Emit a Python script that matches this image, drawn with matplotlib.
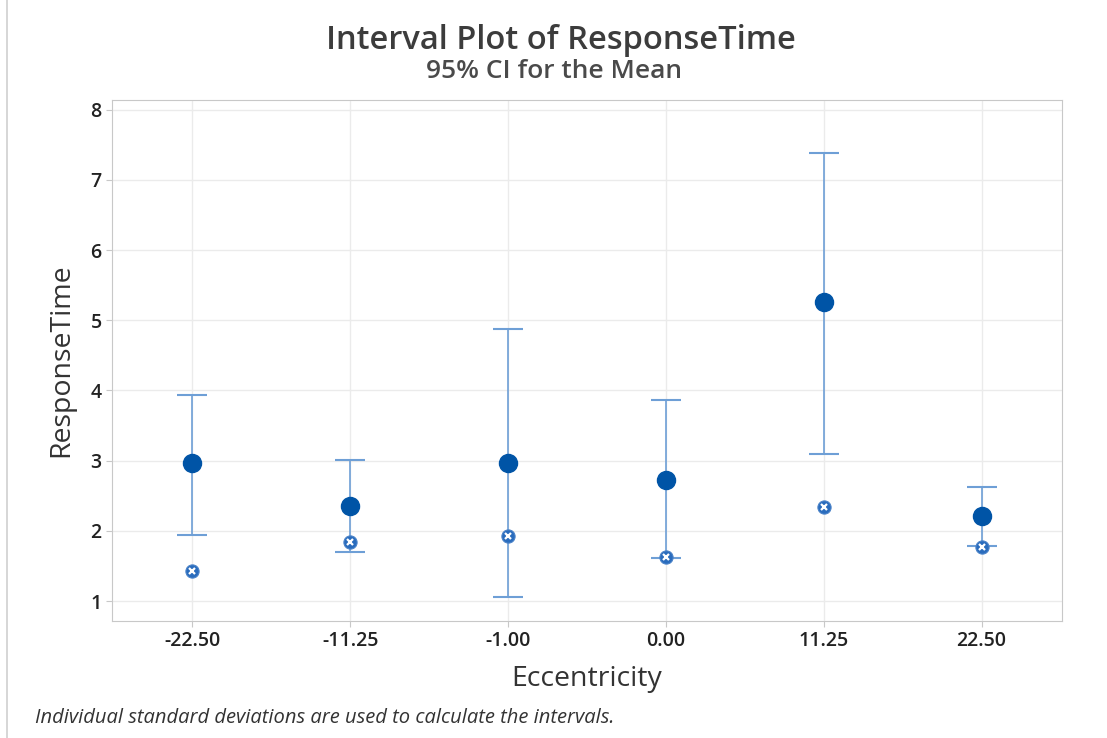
import matplotlib
matplotlib.use("Agg")
import matplotlib.pyplot as plt
from matplotlib.patches import Rectangle

# data
categories = ["-22.50", "-11.25", "-1.00", "0.00", "11.25", "22.50"]
means = [2.96, 2.35, 2.96, 2.73, 5.26, 2.21]
ci_upper = [3.94, 3.01, 4.88, 3.87, 7.39, 2.63]
ci_lower = [1.94, 1.70, 1.06, 1.61, 3.10, 1.78]
points = [1.43, 1.84, 1.93, 1.63, 2.34, 1.77]

blue = "#0054a6"
light_blue = "#6e9fd6"

plt.rcParams["font.family"] = ["Open Sans", "DejaVu Sans"]

fig = plt.figure(figsize=(11.07, 7.38), dpi=100)
ax = fig.add_axes([112 / 1107, 1 - 621 / 738, 950 / 1107, 521 / 738])

x = list(range(len(categories)))
err_low = [m - lo for m, lo in zip(means, ci_lower)]
err_up = [hi - m for m, hi in zip(means, ci_upper)]

ax.errorbar(x, means, yerr=[err_low, err_up], fmt="none", ecolor=light_blue,
            elinewidth=1.2, capsize=11, capthick=1.5, zorder=2)
# checkered small markers: blue disc with white cross pattern
ax.plot(x, points, "o", color="#2a6cbd", markersize=9.5, markeredgecolor="#4a82c8",
        markeredgewidth=0.8, linestyle="none", zorder=3)
ax.plot(x, points, "x", color="white", markersize=5, markeredgewidth=1.6,
        linestyle="none", zorder=4)
ax.plot(x, means, "o", color=blue, markersize=13, linestyle="none", zorder=5)

ax.set_xlim(-0.51, 5.51)
ax.set_ylim(0.715, 8.14)
ax.set_xticks(x)
ax.set_xticklabels(categories)
ax.set_yticks(range(1, 9))
ax.grid(True, color="#ebebeb", linewidth=1)
ax.set_axisbelow(True)
for s in ax.spines.values():
    s.set_color("#c8c8c8")
ax.tick_params(colors="#c8c8c8", labelcolor="#222222", labelsize=14, length=4)
for lab in ax.get_xticklabels() + ax.get_yticklabels():
    lab.set_fontweight("semibold")

ax.set_xlabel("Eccentricity", fontsize=20.5, color="#333333", labelpad=10)
ax.set_ylabel("ResponseTime", fontsize=20.5, color="#333333", labelpad=11)

fig.text(0.507, 0.945, "Interval Plot of ResponseTime", ha="center", va="center",
         fontsize=23.5, color="#3c3c3c", fontweight="semibold")
fig.text(0.5, 0.903, "95% CI for the Mean", ha="center", va="center",
         fontsize=19, color="#4a4a4a", fontweight="semibold")
fig.text(35 / 1107, 1 - 718 / 738, "Individual standard deviations are used to calculate the intervals.",
         ha="left", va="center", fontsize=14.5, style="italic", color="#333333")

fig.patches.append(Rectangle((7 / 1107, -0.01), 1.1, 1.1, transform=fig.transFigure,
                             fill=False, edgecolor="#d0d0d0", linewidth=1.2))

fig.savefig("out.png", dpi=100)
